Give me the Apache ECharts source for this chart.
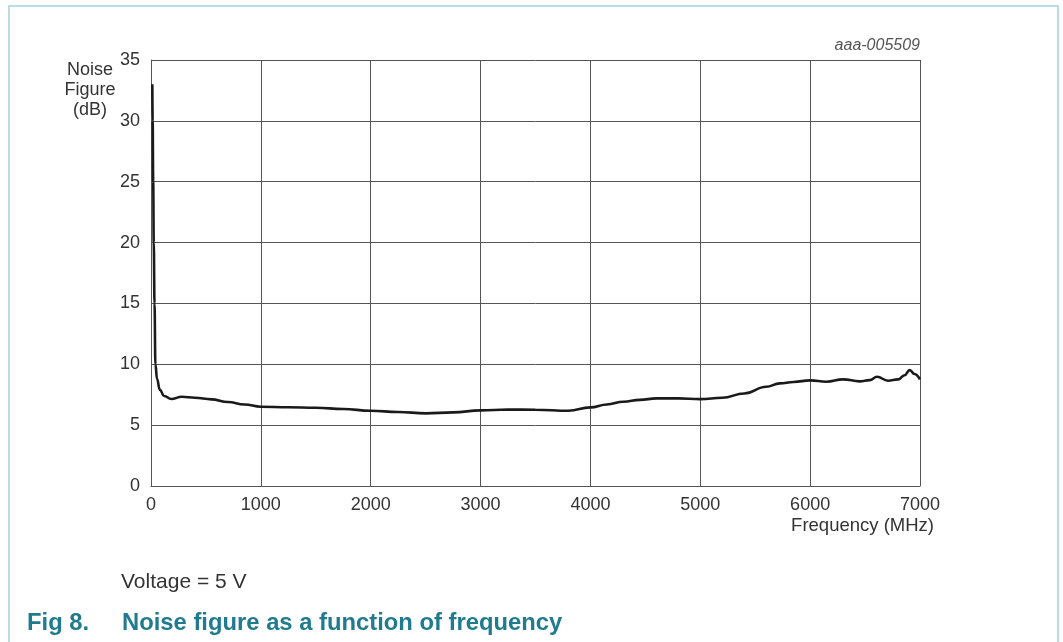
<!DOCTYPE html>
<html>
<head>
<meta charset="utf-8">
<script src="https://cdn.jsdelivr.net/npm/echarts@6/dist/echarts.min.js"></script>
<style>
html,body{margin:0;padding:0;background:#fff;}
#chart{width:1063px;height:642px;}
</style>
</head>
<body>
<div id="chart"></div>
<script>
// Frequency (MHz)
const freqMHz = [12, 15, 20, 25, 32, 40, 55, 80, 120, 185, 280, 400, 550, 700, 850, 1000, 1250, 1500, 1750, 2000, 2250, 2500, 2750, 3000, 3250, 3500, 3800, 4000, 4150, 4300, 4450, 4600, 4800, 5000, 5200, 5400, 5600, 5723, 5850, 6000, 6148, 6300, 6451, 6542, 6609, 6709, 6800, 6860, 6906, 6950, 7000];
// Noise figure (dB)
const noiseFigureDb = [33.0, 30.0, 25.0, 20.0, 15.0, 10.0, 8.8, 7.9, 7.4, 7.15, 7.33, 7.25, 7.12, 6.9, 6.7, 6.51, 6.47, 6.43, 6.33, 6.18, 6.08, 5.97, 6.05, 6.21, 6.28, 6.27, 6.18, 6.46, 6.7, 6.92, 7.08, 7.2, 7.2, 7.14, 7.25, 7.6, 8.15, 8.43, 8.55, 8.68, 8.57, 8.76, 8.6, 8.7, 8.97, 8.65, 8.76, 9.1, 9.52, 9.2, 8.76];
const xTicks = [0, 1000, 2000, 3000, 4000, 5000, 6000, 7000];
const yTicks = [0, 5, 10, 15, 20, 25, 30, 35];

const chart = echarts.init(document.getElementById('chart'), null, {renderer: 'canvas'});
const font = '"Liberation Sans", Arial, sans-serif';
const gridColor = '#555555';
const textColor = '#333333';

chart.setOption({
  animation: false,
  backgroundColor: '#ffffff',
  grid: {left: 151, top: 60, right: 143, bottom: 156, containLabel: false},
  xAxis: {
    type: 'value', min: xTicks[0], max: xTicks[xTicks.length - 1], interval: 1000,
    axisLine: {show: true, lineStyle: {color: gridColor, width: 1}},
    axisTick: {show: false},
    splitLine: {show: true, lineStyle: {color: gridColor, width: 1}},
    axisLabel: {color: textColor, fontFamily: font, fontSize: 18, margin: 10, formatter: v => String(v)}
  },
  yAxis: {
    type: 'value', min: yTicks[0], max: yTicks[yTicks.length - 1], interval: 5,
    axisLine: {show: true, lineStyle: {color: gridColor, width: 1}},
    axisTick: {show: false},
    splitLine: {show: true, lineStyle: {color: gridColor, width: 1}},
    axisLabel: {color: textColor, fontFamily: font, fontSize: 18, margin: 11, formatter: v => String(v)}
  },
  series: [{
    type: 'line',
    data: freqMHz.map((f, i) => [f, noiseFigureDb[i]]),
    smooth: 0.45,
    smoothMonotone: 'x',
    showSymbol: false,
    lineStyle: {color: '#1a1a1a', width: 2.6},
    z: 5
  }],
  graphic: [
    {type: 'rect', shape: {x: 9, y: 6, width: 1049, height: 660}, style: {fill: 'none', stroke: '#bcdbe4', lineWidth: 2}, silent: true},
    {type: 'text', x: 90, y: 60, style: {text: 'Noise\nFigure\n(dB)', font: '18px ' + font, fill: textColor, align: 'center', lineHeight: 20}},
    {type: 'text', x: 920, y: 38, style: {text: 'aaa-005509', font: 'italic 16px ' + font, fill: '#555555', align: 'right'}},
    {type: 'text', x: 934, y: 516, style: {text: 'Frequency (MHz)', font: '18.5px ' + font, fill: textColor, align: 'right'}},
    {type: 'text', x: 121, y: 572, style: {text: 'Voltage = 5 V', font: '21px ' + font, fill: textColor}},
    {type: 'text', x: 27, y: 611, style: {text: 'Fig 8.', font: 'bold 23.8px ' + font, fill: '#1f7b8d'}},
    {type: 'text', x: 122, y: 611, style: {text: 'Noise figure as a function of frequency', font: 'bold 23.8px ' + font, fill: '#1f7b8d'}}
  ]
});
</script>
</body>
</html>
